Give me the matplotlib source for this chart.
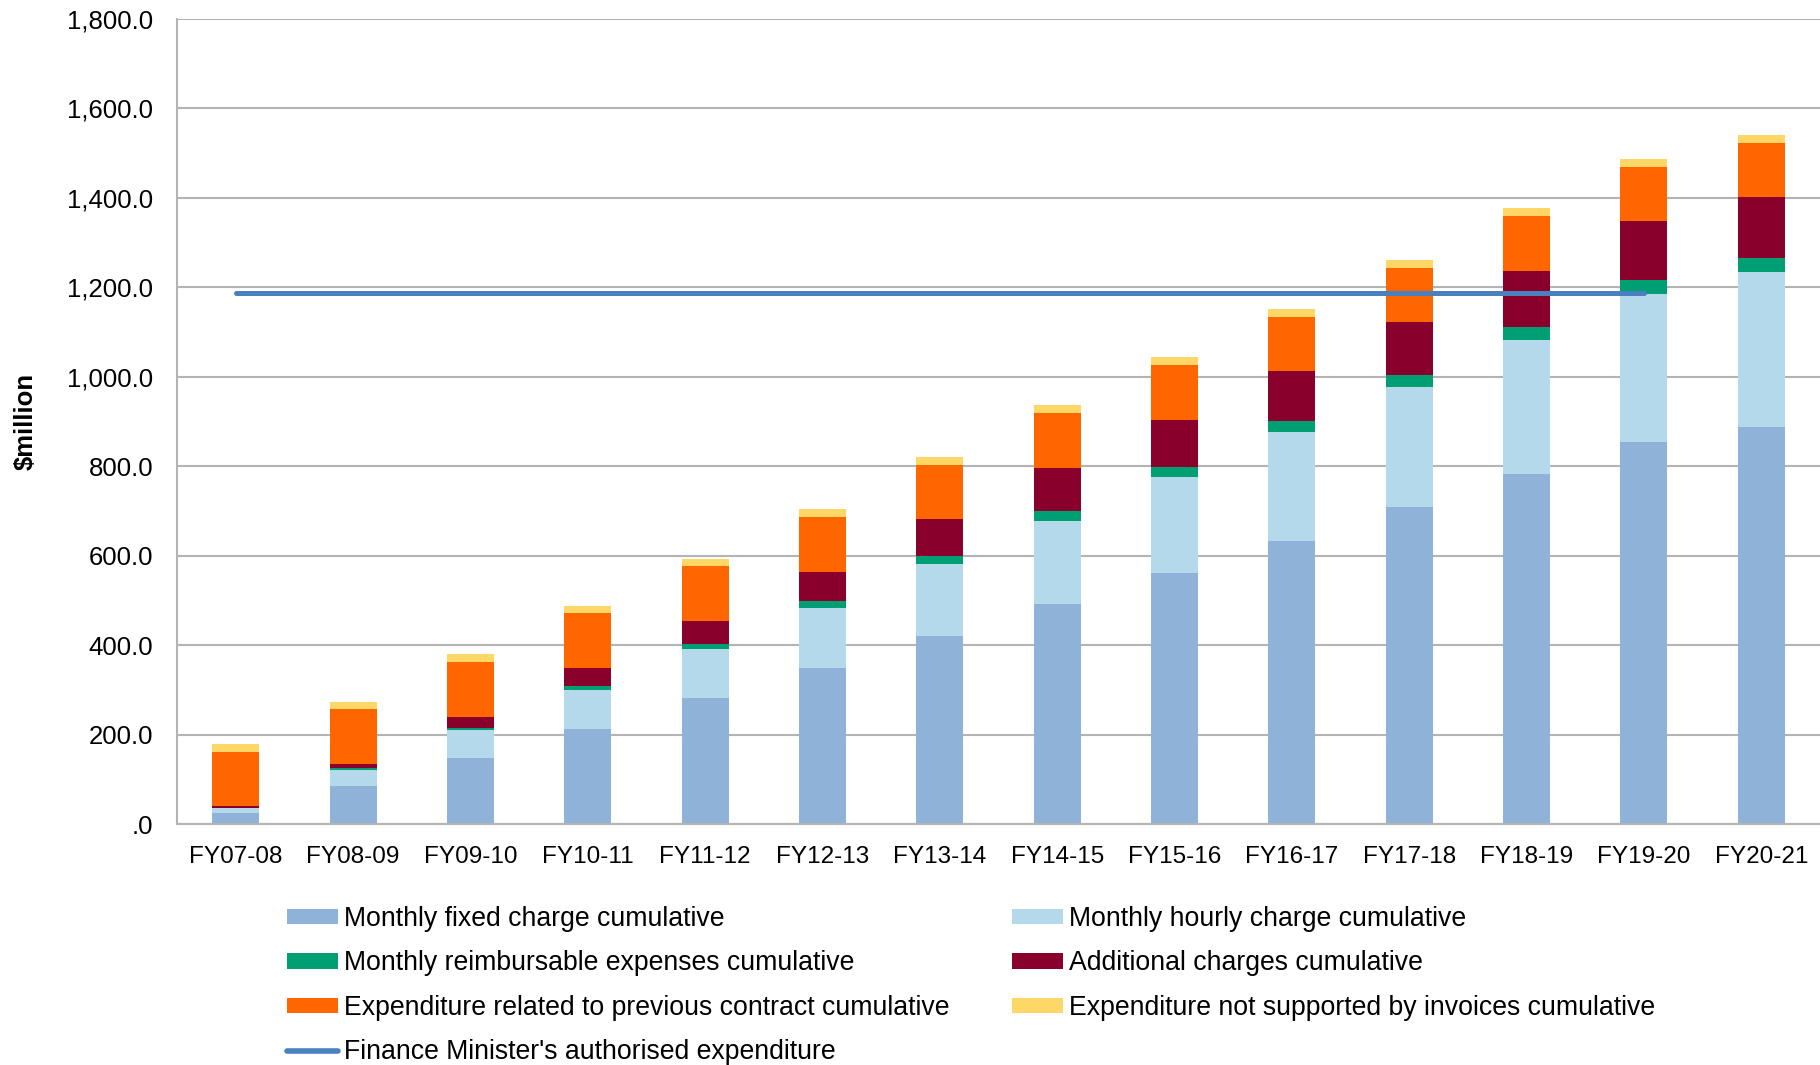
import matplotlib
matplotlib.use("Agg")
import matplotlib.pyplot as plt
from matplotlib.ticker import FuncFormatter, MultipleLocator
from matplotlib.patches import Patch
from matplotlib.lines import Line2D
import numpy as np

# Financial years on the x axis
years = ["FY07-08", "FY08-09", "FY09-10", "FY10-11", "FY11-12", "FY12-13", "FY13-14",
         "FY14-15", "FY15-16", "FY16-17", "FY17-18", "FY18-19", "FY19-20", "FY20-21"]

# Cumulative expenditure components ($ million), stacked bottom to top
fixed_charge = [24.6, 85.0, 147.8, 212.7, 281.7, 348.8, 420.4,
                491.9, 562.0, 632.6, 709.0, 783.0, 854.6, 888.0]
hourly_charge = [11.2, 36.6, 63.4, 87.3, 109.6, 134.2, 161.0,
                 184.9, 214.0, 243.6, 267.4, 298.5, 330.1, 345.5]
reimbursable = [0.6, 3.0, 3.8, 9.0, 11.2, 15.6, 17.1,
                22.4, 23.0, 24.6, 27.6, 29.5, 31.0, 32.0]
additional = [3.8, 9.7, 24.6, 40.3, 51.4, 64.9, 82.8,
              96.3, 104.0, 112.0, 117.8, 124.8, 132.5, 136.6]
previous_contract = [121.7, 122.4, 123.1, 122.4, 122.2, 122.9, 122.4,
                     123.2, 122.5, 120.8, 121.8, 123.0, 120.9, 121.0]
not_supported = [17.0, 17.2, 17.1, 16.3, 16.4, 17.9, 16.5,
                 17.9, 18.5, 17.7, 16.7, 17.5, 17.4, 17.2]

# Authorised expenditure line, drawn from the first to the second-last year
authorised = 1187.0
authorised_years = years[:-1]

series_labels = [
    "Monthly fixed charge cumulative",
    "Monthly hourly charge cumulative",
    "Monthly reimbursable expenses cumulative",
    "Additional charges cumulative",
    "Expenditure related to previous contract cumulative",
    "Expenditure not supported by invoices cumulative",
]
line_label = "Finance Minister's authorised expenditure"

colors = ["#8FB2D9", "#B4D9EB", "#009E73", "#89002D", "#FF6600", "#FFD766"]
line_color = "#4A80C0"
grid_color = "#B4B4B4"

plt.rcParams["font.family"] = ["Liberation Sans", "DejaVu Sans"]

fig = plt.figure(figsize=(18.2, 10.65), dpi=100)
W, H = 1820, 1065
ax = fig.add_axes([177 / W, 1 - 824 / H, (1820 - 177) / W, (824 - 19) / H])

x = np.arange(len(years))
stack = [fixed_charge, hourly_charge, reimbursable, additional, previous_contract, not_supported]
bottom = np.zeros(len(years))
for vals, col, lab in zip(stack, colors, series_labels):
    ax.bar(x, vals, width=0.4, bottom=bottom, color=col, label=lab, zorder=2, linewidth=0)
    bottom += np.array(vals)

ax.plot(np.arange(len(authorised_years)), [authorised] * len(authorised_years),
        color=line_color, lw=3.6, solid_capstyle="round", zorder=3)

ax.set_xlim(-0.5, len(years) - 0.5)
ax.set_ylim(0, 1800)
ax.yaxis.set_major_locator(MultipleLocator(200))


def money(v, pos):
    if v == 0:
        return ".0"
    return f"{v:,.1f}"


ax.yaxis.set_major_formatter(FuncFormatter(money))
ax.set_xticks(x)
ax.set_xticklabels(years)
ax.tick_params(axis="x", length=0, pad=16, labelsize=17.5, colors="black")
ax.tick_params(axis="y", length=0, pad=17, labelsize=18.5, colors="black")

ax.grid(axis="y", color=grid_color, lw=1.5, zorder=0)
ax.set_axisbelow(True)
for side in ["top", "right"]:
    ax.spines[side].set_visible(False)
for side in ["left", "bottom"]:
    ax.spines[side].set_color(grid_color)
    ax.spines[side].set_linewidth(1.5)

fig.text(26 / W, 1 - 421 / H, "$million", rotation=90, ha="center", va="center",
         fontsize=18.5, fontweight="bold")

# Two-column legend below the plot
legend_font = {"family": ["Liberation Sans", "DejaVu Sans"], "size": 19.2}
patches = [Patch(facecolor=c, edgecolor="none") for c in colors]
line_handle = Line2D([0], [0], color=line_color, lw=4.0, solid_capstyle="round")

col1_handles = [patches[0], patches[2], patches[4], line_handle]
col1_labels = [series_labels[0], series_labels[2], series_labels[4], line_label]
col2_handles = [patches[1], patches[3], patches[5]]
col2_labels = [series_labels[1], series_labels[3], series_labels[5]]

common = dict(frameon=False, prop=legend_font, handlelength=1.91, handleheight=0.52,
              handletextpad=0.22, labelspacing=0.69, borderpad=0, borderaxespad=0,
              loc="upper left")
leg1 = fig.legend(col1_handles, col1_labels, bbox_to_anchor=(287 / W, 1 - 906 / H), **common)
leg2 = fig.legend(col2_handles, col2_labels, bbox_to_anchor=(1012 / W, 1 - 906 / H), **common)

fig.savefig("out.png", dpi=100)
